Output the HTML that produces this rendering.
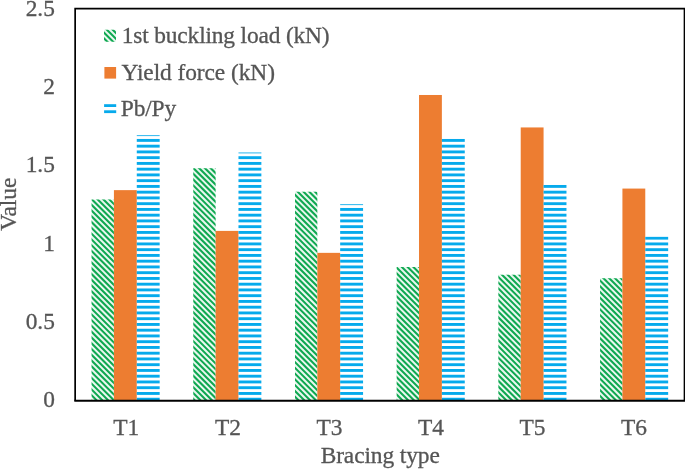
<!DOCTYPE html>
<html><head><meta charset="utf-8"><title>Bracing type chart</title>
<style>
html,body{margin:0;padding:0;background:#fff;}
body{width:685px;height:469px;overflow:hidden;}
svg{display:block;}
text{font-family:"Liberation Serif","Times New Roman",serif;font-size:23.4px;fill:#555555;stroke:#555555;stroke-width:0.3px;}
</style></head><body>
<svg width="685" height="469" viewBox="0 0 685 469">
<rect x="0" y="0" width="685" height="469" fill="#ffffff"/>
<defs>
<clipPath id="cg"><rect x="91.57" y="199.55" width="22.35" height="201.15"/><rect x="193.27" y="168.20" width="22.35" height="232.50"/><rect x="294.97" y="191.71" width="22.35" height="208.99"/><rect x="396.67" y="266.95" width="22.35" height="133.75"/><rect x="498.37" y="274.79" width="22.35" height="125.91"/><rect x="600.07" y="278.24" width="22.35" height="122.46"/><rect x="104.00" y="29.80" width="12.00" height="11.90"/></clipPath>
<clipPath id="cb"><rect x="136.77" y="135.28" width="22.90" height="265.42"/><rect x="238.47" y="152.52" width="22.90" height="248.18"/><rect x="340.17" y="204.25" width="22.90" height="196.45"/><rect x="441.87" y="138.41" width="22.90" height="262.29"/><rect x="543.57" y="184.66" width="22.90" height="216.04"/><rect x="645.27" y="236.39" width="22.90" height="164.31"/></clipPath>
</defs>
<g fill="#0fa851" fill-opacity="0.09"><rect x="91.57" y="199.55" width="22.35" height="201.15"/><rect x="193.27" y="168.20" width="22.35" height="232.50"/><rect x="294.97" y="191.71" width="22.35" height="208.99"/><rect x="396.67" y="266.95" width="22.35" height="133.75"/><rect x="498.37" y="274.79" width="22.35" height="125.91"/><rect x="600.07" y="278.24" width="22.35" height="122.46"/><rect x="104.00" y="29.80" width="12.00" height="11.90"/></g>
<g clip-path="url(#cg)"><path d="M-481.76 -5L-2.76 474M-475.99 -5L3.01 474M-470.22 -5L8.78 474M-464.45 -5L14.55 474M-458.68 -5L20.32 474M-452.91 -5L26.09 474M-447.14 -5L31.86 474M-441.37 -5L37.63 474M-435.60 -5L43.40 474M-429.83 -5L49.17 474M-424.06 -5L54.94 474M-418.29 -5L60.71 474M-412.52 -5L66.48 474M-406.75 -5L72.25 474M-400.98 -5L78.02 474M-395.21 -5L83.79 474M-389.44 -5L89.56 474M-383.67 -5L95.33 474M-377.90 -5L101.10 474M-372.13 -5L106.87 474M-366.36 -5L112.64 474M-360.59 -5L118.41 474M-354.82 -5L124.18 474M-349.05 -5L129.95 474M-343.28 -5L135.72 474M-337.51 -5L141.49 474M-331.74 -5L147.26 474M-325.97 -5L153.03 474M-320.20 -5L158.80 474M-314.43 -5L164.57 474M-308.66 -5L170.34 474M-302.89 -5L176.11 474M-297.12 -5L181.88 474M-291.35 -5L187.65 474M-285.58 -5L193.42 474M-279.81 -5L199.19 474M-274.04 -5L204.96 474M-268.27 -5L210.73 474M-262.50 -5L216.50 474M-256.73 -5L222.27 474M-250.96 -5L228.04 474M-245.19 -5L233.81 474M-239.42 -5L239.58 474M-233.65 -5L245.35 474M-227.88 -5L251.12 474M-222.11 -5L256.89 474M-216.34 -5L262.66 474M-210.57 -5L268.43 474M-204.80 -5L274.20 474M-199.03 -5L279.97 474M-193.26 -5L285.74 474M-187.49 -5L291.51 474M-181.72 -5L297.28 474M-175.95 -5L303.05 474M-170.18 -5L308.82 474M-164.41 -5L314.59 474M-158.64 -5L320.36 474M-152.87 -5L326.13 474M-147.10 -5L331.90 474M-141.33 -5L337.67 474M-135.56 -5L343.44 474M-129.79 -5L349.21 474M-124.02 -5L354.98 474M-118.25 -5L360.75 474M-112.48 -5L366.52 474M-106.71 -5L372.29 474M-100.94 -5L378.06 474M-95.17 -5L383.83 474M-89.40 -5L389.60 474M-83.63 -5L395.37 474M-77.86 -5L401.14 474M-72.09 -5L406.91 474M-66.32 -5L412.68 474M-60.55 -5L418.45 474M-54.78 -5L424.22 474M-49.01 -5L429.99 474M-43.24 -5L435.76 474M-37.47 -5L441.53 474M-31.70 -5L447.30 474M-25.93 -5L453.07 474M-20.16 -5L458.84 474M-14.39 -5L464.61 474M-8.62 -5L470.38 474M-2.85 -5L476.15 474M2.92 -5L481.92 474M8.69 -5L487.69 474M14.46 -5L493.46 474M20.23 -5L499.23 474M26.00 -5L505.00 474M31.77 -5L510.77 474M37.54 -5L516.54 474M43.31 -5L522.31 474M49.08 -5L528.08 474M54.85 -5L533.85 474M60.62 -5L539.62 474M66.39 -5L545.39 474M72.16 -5L551.16 474M77.93 -5L556.93 474M83.70 -5L562.70 474M89.47 -5L568.47 474M95.24 -5L574.24 474M101.01 -5L580.01 474M106.78 -5L585.78 474M112.55 -5L591.55 474M118.32 -5L597.32 474M124.09 -5L603.09 474M129.86 -5L608.86 474M135.63 -5L614.63 474M141.40 -5L620.40 474M147.17 -5L626.17 474M152.94 -5L631.94 474M158.71 -5L637.71 474M164.48 -5L643.48 474M170.25 -5L649.25 474M176.02 -5L655.02 474M181.79 -5L660.79 474M187.56 -5L666.56 474M193.33 -5L672.33 474M199.10 -5L678.10 474M204.87 -5L683.87 474M210.64 -5L689.64 474M216.41 -5L695.41 474M222.18 -5L701.18 474M227.95 -5L706.95 474M233.72 -5L712.72 474M239.49 -5L718.49 474M245.26 -5L724.26 474M251.03 -5L730.03 474M256.80 -5L735.80 474M262.57 -5L741.57 474M268.34 -5L747.34 474M274.11 -5L753.11 474M279.88 -5L758.88 474M285.65 -5L764.65 474M291.42 -5L770.42 474M297.19 -5L776.19 474M302.96 -5L781.96 474M308.73 -5L787.73 474M314.50 -5L793.50 474M320.27 -5L799.27 474M326.04 -5L805.04 474M331.81 -5L810.81 474M337.58 -5L816.58 474M343.35 -5L822.35 474M349.12 -5L828.12 474M354.89 -5L833.89 474M360.66 -5L839.66 474M366.43 -5L845.43 474M372.20 -5L851.20 474M377.97 -5L856.97 474M383.74 -5L862.74 474M389.51 -5L868.51 474M395.28 -5L874.28 474M401.05 -5L880.05 474M406.82 -5L885.82 474M412.59 -5L891.59 474M418.36 -5L897.36 474M424.13 -5L903.13 474M429.90 -5L908.90 474M435.67 -5L914.67 474M441.44 -5L920.44 474M447.21 -5L926.21 474M452.98 -5L931.98 474M458.75 -5L937.75 474M464.52 -5L943.52 474M470.29 -5L949.29 474M476.06 -5L955.06 474M481.83 -5L960.83 474M487.60 -5L966.60 474M493.37 -5L972.37 474M499.14 -5L978.14 474M504.91 -5L983.91 474M510.68 -5L989.68 474M516.45 -5L995.45 474M522.22 -5L1001.22 474M527.99 -5L1006.99 474M533.76 -5L1012.76 474M539.53 -5L1018.53 474M545.30 -5L1024.30 474M551.07 -5L1030.07 474M556.84 -5L1035.84 474M562.61 -5L1041.61 474M568.38 -5L1047.38 474M574.15 -5L1053.15 474M579.92 -5L1058.92 474M585.69 -5L1064.69 474M591.46 -5L1070.46 474M597.23 -5L1076.23 474M603.00 -5L1082.00 474M608.77 -5L1087.77 474M614.54 -5L1093.54 474M620.31 -5L1099.31 474M626.08 -5L1105.08 474M631.85 -5L1110.85 474M637.62 -5L1116.62 474M643.39 -5L1122.39 474M649.16 -5L1128.16 474M654.93 -5L1133.93 474M660.70 -5L1139.70 474M666.47 -5L1145.47 474M672.24 -5L1151.24 474M678.01 -5L1157.01 474M683.78 -5L1162.78 474" stroke="#0fa851" stroke-width="2.051" fill="none"/></g>
<g fill="#ed7d31"><rect x="113.92" y="190.14" width="22.85" height="210.56"/><rect x="215.62" y="230.90" width="22.85" height="169.80"/><rect x="317.32" y="252.85" width="22.85" height="147.85"/><rect x="419.02" y="94.99" width="22.85" height="305.71"/><rect x="520.72" y="127.44" width="22.85" height="273.26"/><rect x="622.42" y="188.57" width="22.85" height="212.13"/><rect x="104.40" y="67.00" width="11.70" height="11.60"/></g>
<g clip-path="url(#cb)" fill="#06aaec"><rect x="70" y="0.94" width="620" height="2.88"/><rect x="70" y="6.69" width="620" height="2.88"/><rect x="70" y="12.44" width="620" height="2.88"/><rect x="70" y="18.19" width="620" height="2.88"/><rect x="70" y="23.94" width="620" height="2.88"/><rect x="70" y="29.70" width="620" height="2.88"/><rect x="70" y="35.45" width="620" height="2.88"/><rect x="70" y="41.20" width="620" height="2.88"/><rect x="70" y="46.95" width="620" height="2.88"/><rect x="70" y="52.70" width="620" height="2.88"/><rect x="70" y="58.45" width="620" height="2.88"/><rect x="70" y="64.20" width="620" height="2.88"/><rect x="70" y="69.95" width="620" height="2.88"/><rect x="70" y="75.70" width="620" height="2.88"/><rect x="70" y="81.45" width="620" height="2.88"/><rect x="70" y="87.20" width="620" height="2.88"/><rect x="70" y="92.96" width="620" height="2.88"/><rect x="70" y="98.71" width="620" height="2.88"/><rect x="70" y="104.46" width="620" height="2.88"/><rect x="70" y="110.21" width="620" height="2.88"/><rect x="70" y="115.96" width="620" height="2.88"/><rect x="70" y="121.71" width="620" height="2.88"/><rect x="70" y="127.46" width="620" height="2.88"/><rect x="70" y="133.21" width="620" height="2.88"/><rect x="70" y="138.96" width="620" height="2.88"/><rect x="70" y="144.72" width="620" height="2.88"/><rect x="70" y="150.47" width="620" height="2.88"/><rect x="70" y="156.22" width="620" height="2.88"/><rect x="70" y="161.97" width="620" height="2.88"/><rect x="70" y="167.72" width="620" height="2.88"/><rect x="70" y="173.47" width="620" height="2.88"/><rect x="70" y="179.22" width="620" height="2.88"/><rect x="70" y="184.97" width="620" height="2.88"/><rect x="70" y="190.72" width="620" height="2.88"/><rect x="70" y="196.47" width="620" height="2.88"/><rect x="70" y="202.23" width="620" height="2.88"/><rect x="70" y="207.98" width="620" height="2.88"/><rect x="70" y="213.73" width="620" height="2.88"/><rect x="70" y="219.48" width="620" height="2.88"/><rect x="70" y="225.23" width="620" height="2.88"/><rect x="70" y="230.98" width="620" height="2.88"/><rect x="70" y="236.73" width="620" height="2.88"/><rect x="70" y="242.48" width="620" height="2.88"/><rect x="70" y="248.23" width="620" height="2.88"/><rect x="70" y="253.98" width="620" height="2.88"/><rect x="70" y="259.74" width="620" height="2.88"/><rect x="70" y="265.49" width="620" height="2.88"/><rect x="70" y="271.24" width="620" height="2.88"/><rect x="70" y="276.99" width="620" height="2.88"/><rect x="70" y="282.74" width="620" height="2.88"/><rect x="70" y="288.49" width="620" height="2.88"/><rect x="70" y="294.24" width="620" height="2.88"/><rect x="70" y="299.99" width="620" height="2.88"/><rect x="70" y="305.74" width="620" height="2.88"/><rect x="70" y="311.49" width="620" height="2.88"/><rect x="70" y="317.25" width="620" height="2.88"/><rect x="70" y="323.00" width="620" height="2.88"/><rect x="70" y="328.75" width="620" height="2.88"/><rect x="70" y="334.50" width="620" height="2.88"/><rect x="70" y="340.25" width="620" height="2.88"/><rect x="70" y="346.00" width="620" height="2.88"/><rect x="70" y="351.75" width="620" height="2.88"/><rect x="70" y="357.50" width="620" height="2.88"/><rect x="70" y="363.25" width="620" height="2.88"/><rect x="70" y="369.00" width="620" height="2.88"/><rect x="70" y="374.75" width="620" height="2.88"/><rect x="70" y="380.51" width="620" height="2.88"/><rect x="70" y="386.26" width="620" height="2.88"/><rect x="70" y="392.01" width="620" height="2.88"/><rect x="70" y="397.76" width="620" height="2.88"/><rect x="70" y="403.51" width="620" height="2.88"/><rect x="70" y="409.26" width="620" height="2.88"/><rect x="70" y="415.01" width="620" height="2.88"/><rect x="70" y="420.76" width="620" height="2.88"/><rect x="70" y="426.51" width="620" height="2.88"/><rect x="70" y="432.27" width="620" height="2.88"/><rect x="70" y="438.02" width="620" height="2.88"/><rect x="70" y="443.77" width="620" height="2.88"/><rect x="70" y="449.52" width="620" height="2.88"/><rect x="70" y="455.27" width="620" height="2.88"/><rect x="70" y="461.02" width="620" height="2.88"/><rect x="70" y="466.77" width="620" height="2.88"/></g>
<g fill="#06aaec"><rect x="104.1" y="104.2" width="12.1" height="2.8"/><rect x="104.1" y="110.3" width="12.1" height="2.8"/></g>
<path d="M75.15 400.7V8.65H684.5V400.7" fill="none" stroke="#000" stroke-width="1.7"/>
<path d="M74.30 400.7H685.35" fill="none" stroke="#000" stroke-width="2"/>
<text x="54.9" y="407.4" text-anchor="end">0</text><text x="54.9" y="329.0" text-anchor="end">0.5</text><text x="54.9" y="250.6" text-anchor="end">1</text><text x="54.9" y="172.3" text-anchor="end">1.5</text><text x="54.9" y="93.9" text-anchor="end">2</text><text x="54.9" y="15.5" text-anchor="end">2.5</text>
<text x="126.3" y="434.9" text-anchor="middle">T1</text><text x="227.9" y="434.9" text-anchor="middle">T2</text><text x="329.4" y="434.9" text-anchor="middle">T3</text><text x="430.9" y="434.9" text-anchor="middle">T4</text><text x="532.5" y="434.9" text-anchor="middle">T5</text><text x="634.0" y="434.9" text-anchor="middle">T6</text>
<text x="380.2" y="463.3" text-anchor="middle" style="letter-spacing:-0.09px">Bracing type</text>
<text transform="translate(16.1 204.2) rotate(-90)" text-anchor="middle">Value</text>
<text x="121.8" y="43.0" style="letter-spacing:-0.16px">1st buckling load (kN)</text>
<text x="121.4" y="79.6" style="letter-spacing:-0.07px">Yield force (kN)</text>
<text x="120.8" y="116.4" style="letter-spacing:-0.15px">Pb/Py</text>
</svg></body></html>
